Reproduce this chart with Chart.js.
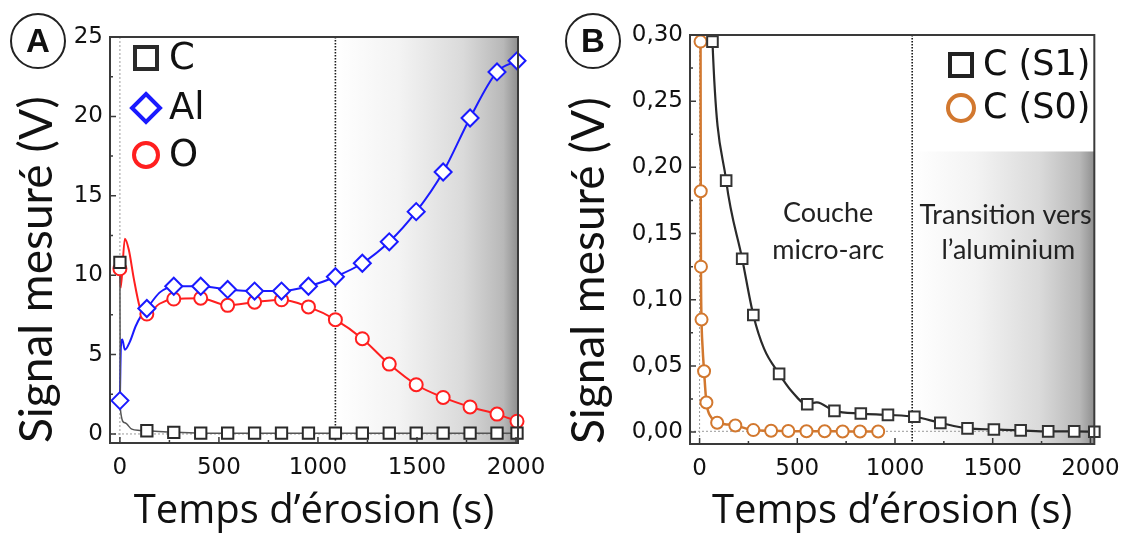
<!DOCTYPE html>
<html>
<head>
<meta charset="utf-8">
<script src="https://cdn.jsdelivr.net/npm/chart.js@4.4.1/dist/chart.umd.min.js"></script>
<style>
html, body { margin: 0; padding: 0; background: #fff; }
#wrap { position: relative; width: 1131px; height: 536px; overflow: hidden; }
#panelA { position: absolute; left: 0; top: 0; }
#panelB { position: absolute; left: 560px; top: 0; }
</style>
</head>
<body>
<div id="wrap">
  <canvas id="panelA" width="560" height="536"></canvas>
  <canvas id="panelB" width="571" height="536"></canvas>
</div>
<script>
// ---- Panel A : markers (one every ~136 s) ----
const timeA   = [0, 136, 272, 408, 544, 680, 816, 952, 1088, 1224, 1360, 1496, 1632, 1768, 1904, 2005];
const carbonA = [10.8, 0.2, 0.1, 0.05, 0.05, 0.05, 0.05, 0.05, 0.05, 0.05, 0.05, 0.05, 0.05, 0.05, 0.05, 0.05];
const aluA    = [2.1, 7.9, 9.3, 9.3, 9.1, 9.0, 9.0, 9.3, 9.9, 10.75, 12.1, 14.0, 16.5, 19.9, 22.8, 23.5];
const oxyA    = [10.4, 7.55, 8.5, 8.55, 8.1, 8.3, 8.45, 8.0, 7.2, 6.0, 4.4, 3.1, 2.3, 1.7, 1.25, 0.8];

// extra trace points between markers (start of the profile)
const carbonExtraT = [2, 25, 60, 100];
const carbonExtraV = [1.6, 0.7, 0.3, 0.22];
const aluExtraT = [5, 12, 25, 50, 80, 110, 200, 240];
const aluExtraV = [5.5, 5.95, 5.3, 5.8, 6.8, 7.5, 8.9, 9.2];
const oxyExtraT = [4, 25, 45, 70, 100, 115, 200];
const oxyExtraV = [9.2, 12.3, 11.6, 9.8, 8.0, 7.6, 8.2];

// ---- Panel B ----
const timeS1 = [66, 136, 218, 275, 407, 551, 690, 825, 964, 1099, 1232, 1371, 1506, 1643, 1784, 1917, 2020];
const carbS1 = [0.295, 0.19, 0.131, 0.0885, 0.044, 0.021, 0.016, 0.014, 0.013, 0.0116, 0.007, 0.0028, 0.002, 0.0013, 0.0005, 0.0005, 0.0003];
const timeS0 = [5, 6, 7, 10, 23, 35, 90, 183, 275, 366, 454, 547, 640, 732, 821, 914];
const carbS0 = [0.295, 0.182, 0.125, 0.085, 0.046, 0.0224, 0.007, 0.005, 0.0015, 0.001, 0.0008, 0.0006, 0.0006, 0.0005, 0.0005, 0.0005];

const s1ExtraT = [60, 330, 470, 600];
const s1ExtraV = [0.33, 0.063, 0.031, 0.0225];
const s0ExtraT = [15, 60, 130];
const s0ExtraV = [0.065, 0.011, 0.006];

const xTicks  = [0, 500, 1000, 1500, 2000];
const yTicksA = [0, 5, 10, 15, 20, 25];
const yTicksB = [0, 0.05, 0.10, 0.15, 0.20, 0.25, 0.30];

const BLUE = '#1a1aff', RED = '#ff1f1f', BLACK = '#2a2a2a', ORANGE = '#d2782f';

function pts(t, v) { return t.map((x, i) => ({ x: x, y: v[i] })); }
function trace(t, v, et, ev) {
    return pts(t, v).concat(pts(et, ev)).sort((a, b) => a.x - b.x);
}

const decoPlugin = {
    id: 'deco',
    beforeDatasetsDraw(chart, args, o) {
        const { ctx, chartArea: a, scales: { x, y } } = chart;
        ctx.save();
        // shaded zone towards aluminium
        const x0 = x.getPixelForValue(o.shadeFrom);
        const yTop = o.shadeTop === null ? a.top : y.getPixelForValue(o.shadeTop);
        const g = ctx.createLinearGradient(x0, 0, a.right, 0);
        g.addColorStop(0, '#ffffff');
        g.addColorStop(0.35, '#f3f3f3');
        g.addColorStop(0.7, '#dadada');
        g.addColorStop(0.92, '#b8b8b8');
        g.addColorStop(1, '#8f8f8f');
        ctx.fillStyle = g;
        ctx.fillRect(x0, yTop, a.right - x0, a.bottom - yTop);

        // light dotted reference lines
        ctx.strokeStyle = '#9a9a9a';
        ctx.lineWidth = 1;
        ctx.setLineDash([2, 2]);
        const xz = x.getPixelForValue(0);
        ctx.beginPath(); ctx.moveTo(xz, a.top); ctx.lineTo(xz, a.bottom); ctx.stroke();
        const yz = y.getPixelForValue(o.baseY);
        ctx.beginPath(); ctx.moveTo(a.left, yz); ctx.lineTo(a.right, yz); ctx.stroke();

        // boundary of the micro-arc layer
        ctx.strokeStyle = '#1a1a1a';
        ctx.lineWidth = 1.6;
        ctx.setLineDash([1.5, 1.5]);
        const xb = x.getPixelForValue(o.boundary);
        ctx.beginPath(); ctx.moveTo(xb, a.top); ctx.lineTo(xb, a.bottom); ctx.stroke();
        ctx.restore();
    },
    afterDatasetsDraw(chart, args, o) {
        const { ctx, chartArea: a, scales: { x, y } } = chart;
        ctx.save();
        // frame
        ctx.strokeStyle = '#3a3a3a';
        ctx.lineWidth = 2;
        ctx.strokeRect(a.left, a.top, a.right - a.left, a.bottom - a.top);

        // inward ticks, major + minor
        ctx.lineWidth = 1.5;
        const xs = x.ticks.map(t => t.value), ys = y.ticks.map(t => t.value);
        const xStep = xs[1] - xs[0], yStep = ys[1] - ys[0];
        ctx.beginPath();
        xs.forEach(v => {
            const p = x.getPixelForValue(v);
            ctx.moveTo(p, a.bottom); ctx.lineTo(p, a.bottom - 6);
            const m = v + xStep / 2;
            if (m < x.max) { const q = x.getPixelForValue(m); ctx.moveTo(q, a.bottom); ctx.lineTo(q, a.bottom - 3); }
        });
        ys.forEach(v => {
            const p = y.getPixelForValue(v);
            ctx.moveTo(a.left, p); ctx.lineTo(a.left + 6, p);
            const m = v + yStep / 2;
            if (m < y.max) { const q = y.getPixelForValue(m); ctx.moveTo(a.left, q); ctx.lineTo(a.left + 3, q); }
        });
        ctx.stroke();

        // legend
        o.legend.forEach(e => {
            ctx.lineWidth = 4;
            ctx.strokeStyle = e.color;
            ctx.fillStyle = '#fff';
            ctx.beginPath();
            if (e.shape === 'rect') {
                ctx.rect(e.mx - e.r, e.my - e.r, 2 * e.r, 2 * e.r);
            } else if (e.shape === 'diamond') {
                ctx.moveTo(e.mx, e.my - e.r); ctx.lineTo(e.mx + e.r, e.my);
                ctx.lineTo(e.mx, e.my + e.r); ctx.lineTo(e.mx - e.r, e.my); ctx.closePath();
            } else {
                ctx.arc(e.mx, e.my, e.r, 0, Math.PI * 2);
            }
            ctx.fill(); ctx.stroke();
            ctx.fillStyle = '#111';
            ctx.font = e.font;
            ctx.textBaseline = 'middle';
            ctx.textAlign = 'left';
            ctx.fillText(e.label, e.tx, e.my + 1);
        });

        // notes inside the plot
        ctx.fillStyle = '#222';
        ctx.textAlign = 'center';
        ctx.textBaseline = 'middle';
        ctx.font = '27px Lato';
        o.notes.forEach(n => {
            ctx.fillText(n.text, x.getPixelForValue(n.x), y.getPixelForValue(n.y));
        });

        // panel letter
        ctx.lineWidth = 2;
        ctx.strokeStyle = '#222';
        ctx.beginPath();
        ctx.arc(o.letterX, o.letterY, 27, 0, Math.PI * 2);
        ctx.stroke();
        ctx.fillStyle = '#111';
        ctx.font = 'bold 33px "Liberation Sans"';
        ctx.fillText(o.letter, o.letterX, o.letterY + 2);
        ctx.restore();
    }
};

function axisX(min, max) {
    return {
        type: 'linear', min: min, max: max,
        afterBuildTicks: s => { s.ticks = xTicks.map(v => ({ value: v })); },
        ticks: { font: { family: 'DejaVu Sans', size: 23 }, color: '#111', padding: 11, maxRotation: 0,
                 autoSkip: false, callback: v => String(v) },
        grid: { display: false, drawTicks: false },
        border: { display: false },
        title: { display: true, text: 'Temps d’érosion (s)', color: '#111',
                 font: { family: 'Open Sans', size: 40 }, padding: { top: 0, bottom: 0 } }
    };
}

function axisY(min, max, tickVals, fmt, titlePad) {
    return {
        type: 'linear', min: min, max: max,
        afterBuildTicks: s => { s.ticks = tickVals.map(v => ({ value: v })); },
        ticks: { font: { family: 'DejaVu Sans', size: 23 }, color: '#111', padding: 7, callback: fmt },
        grid: { display: false, drawTicks: false },
        border: { display: false },
        title: { display: true, align: 'start', text: 'Signal mesuré (V)', color: '#111',
                 font: { family: 'Lato', size: 46 }, padding: { top: titlePad, bottom: 0 } }
    };
}

function markerSet(label, t, v, shape, color, r) {
    return {
        label: label, data: pts(t, v), showLine: false, clip: 12,
        pointStyle: shape, pointRadius: r, pointBorderWidth: 2,
        pointBorderColor: color, pointBackgroundColor: '#fff'
    };
}
function lineSet(label, data, color, w) {
    return {
        label: label, data: data, showLine: true, pointRadius: 0,
        borderColor: color, borderWidth: w, cubicInterpolationMode: 'monotone'
    };
}

const baseOpts = {
    responsive: false,
    animation: false,
    devicePixelRatio: 1,
    plugins: { legend: { display: false }, tooltip: { enabled: false } }
};

// Panel A
const xA = axisX(-50, 2010); xA.afterFit = s => { s.height = 93; };
const yA = axisY(-0.57, 25, yTicksA, v => String(v), 10); yA.afterFit = s => { s.width = 110; };

new Chart(document.getElementById('panelA').getContext('2d'), {
    type: 'scatter',
    data: {
        datasets: [
            markerSet('C', timeA, carbonA, 'rect', BLACK, 8),
            markerSet('Al', timeA, aluA, 'rectRot', BLUE, 8.5),
            markerSet('O', timeA, oxyA, 'circle', RED, 6.5),
            lineSet('C trace', trace(timeA, carbonA, carbonExtraT, carbonExtraV), '#555', 1.5),
            lineSet('Al trace', trace(timeA, aluA, aluExtraT, aluExtraV), BLUE, 2),
            lineSet('O trace', trace(timeA, oxyA, oxyExtraT, oxyExtraV), RED, 2)
        ]
    },
    options: Object.assign({}, baseOpts, {
        layout: { padding: { top: 37, right: 42, left: 0, bottom: 0 } },
        scales: { x: xA, y: yA },
        plugins: Object.assign({}, baseOpts.plugins, {
            deco: {
                shadeFrom: 1088, shadeTop: null, boundary: 1088, baseY: 0,
                letter: 'A', letterX: 38, letterY: 41,
                notes: [],
                legend: [
                    { label: 'C', shape: 'rect', color: BLACK, r: 11, mx: 146, my: 58, tx: 169, font: '37px "DejaVu Sans"' },
                    { label: 'Al', shape: 'diamond', color: BLUE, r: 14, mx: 146, my: 108, tx: 169, font: '37px "DejaVu Sans"' },
                    { label: 'O', shape: 'circle', color: RED, r: 12, mx: 146, my: 155, tx: 169, font: '37px "DejaVu Sans"' }
                ]
            }
        })
    }),
    plugins: [decoPlugin]
});

// Panel B
const xB = axisX(-49, 2020); xB.afterFit = s => { s.height = 92; };
const yB = axisY(-0.009, 0.30, yTicksB, v => v.toFixed(2).replace('.', ','), 2); yB.afterFit = s => { s.width = 130; };

new Chart(document.getElementById('panelB').getContext('2d'), {
    type: 'scatter',
    data: {
        datasets: [
            markerSet('C (S1)', timeS1, carbS1, 'rect', '#333', 7.5),
            markerSet('C (S0)', timeS0, carbS0, 'circle', ORANGE, 6),
            lineSet('S1 trace', trace(timeS1, carbS1, s1ExtraT, s1ExtraV), '#2a2a2a', 2.2),
            lineSet('S0 trace', trace(timeS0, carbS0, s0ExtraT, s0ExtraV), ORANGE, 2.5)
        ]
    },
    options: Object.assign({}, baseOpts, {
        layout: { padding: { top: 35, right: 33, left: 0, bottom: 0 } },
        scales: { x: xB, y: yB },
        plugins: Object.assign({}, baseOpts.plugins, {
            deco: {
                shadeFrom: 1088, shadeTop: 0.212, boundary: 1088, baseY: 0.0006,
                letter: 'B', letterX: 33, letterY: 41,
                notes: [
                    { text: 'Couche', x: 658, y: 0.1655 },
                    { text: 'micro-arc', x: 658, y: 0.1375 },
                    { text: 'Transition vers', x: 1566, y: 0.1640 },
                    { text: 'l’aluminium', x: 1580, y: 0.1375 }
                ],
                legend: [
                    { label: 'C (S1)', shape: 'rect', color: '#222', r: 11, mx: 401, my: 65, tx: 423, font: '35px "DejaVu Sans"' },
                    { label: 'C (S0)', shape: 'circle', color: ORANGE, r: 13, mx: 401, my: 108, tx: 423, font: '35px "DejaVu Sans"' }
                ]
            }
        })
    }),
    plugins: [decoPlugin]
});
</script>
</body>
</html>
